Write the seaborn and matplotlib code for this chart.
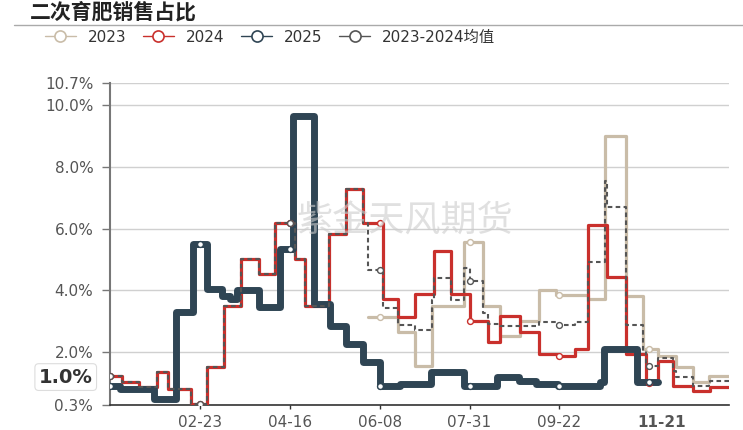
import numpy as np
import pandas as pd
import matplotlib
matplotlib.use("Agg")
import matplotlib.pyplot as plt
from matplotlib.lines import Line2D
import seaborn as sns

YEAR = "2024"  # axis calendar (leap year, includes 02-29)

# ---------------- data ----------------
dates_2023 = ["06-01", "06-19", "06-29", "07-09", "07-28", "08-08", "08-18", "08-30",
              "09-10", "09-20", "10-09", "10-19", "10-31", "11-10", "11-19", "11-30",
              "12-10", "12-19", "12-31"]
vals_2023 = [3.13, 2.65, 1.57, 3.50, 5.55, 3.50, 2.54, 3.02,
             4.00, 3.85, 3.72, 8.99, 3.83, 2.10, 1.89, 1.52,
             1.03, 1.25, 1.25]

dates_2024 = ["01-01", "01-08", "01-18", "01-29", "02-04", "02-18", "02-27", "03-08",
              "03-18", "03-29", "04-07", "04-19", "04-25", "05-09", "05-19", "05-29",
              "06-10", "06-19", "06-29", "07-10", "07-20", "07-31", "08-11", "08-18",
              "08-30", "09-10", "09-21", "10-01", "10-09", "10-20", "10-31", "11-12",
              "11-19", "11-28", "12-10", "12-20", "12-31"]
vals_2024 = [1.25, 1.03, 0.87, 1.35, 0.82, 0.33, 1.52, 3.50,
             5.00, 4.53, 6.19, 5.00, 3.50, 5.82, 7.27, 6.19,
             3.72, 3.15, 3.88, 5.28, 3.88, 3.02, 2.32, 3.18,
             2.65, 1.95, 1.89, 2.10, 6.10, 4.42, 1.95, 1.00,
             1.73, 0.92, 0.76, 0.87, 0.87]

dates_2025 = ["01-01", "01-07", "01-27", "02-09", "02-19", "02-27", "03-07", "03-12",
              "03-16", "03-29", "04-10", "04-18", "04-30", "05-10", "05-19", "05-29",
              "06-08", "06-20", "07-08", "07-28", "08-16", "08-29", "09-08", "09-21",
              "10-16", "10-18", "11-07", "11-19"]
vals_2025 = [0.92, 0.82, 0.50, 3.30, 5.50, 4.04, 3.83, 3.72,
             4.00, 3.46, 5.35, 9.65, 3.56, 2.86, 2.27, 1.69,
             0.90, 0.98, 1.38, 0.92, 1.20, 1.08, 0.98, 0.92,
             1.03, 2.10, 1.03, 1.03]

dates_avg = ["01-01", "01-08", "01-18", "01-29", "02-04", "02-18", "02-27", "03-08",
             "03-18", "03-29", "04-07", "04-19", "04-25", "05-09", "05-19", "05-29",
             "06-01", "06-10", "06-19", "06-29", "07-09", "07-10", "07-20", "07-28",
             "07-31", "08-08", "08-11", "08-18", "08-30", "09-10", "09-20", "09-21",
             "10-01", "10-09", "10-19", "10-20", "10-31", "11-10", "11-12", "11-19",
             "11-28", "11-30", "12-10", "12-19", "12-20", "12-31"]
vals_avg = [1.25, 1.03, 0.87, 1.35, 0.82, 0.33, 1.52, 3.50,
            5.00, 4.53, 6.19, 5.00, 3.50, 5.82, 7.27, 6.19,
            4.66, 3.43, 2.90, 2.73, 3.69, 4.39, 3.69, 4.72,
            4.29, 3.26, 2.91, 2.86, 2.84, 2.98, 2.90, 2.87,
            2.98, 4.91, 7.55, 6.71, 2.89, 2.03, 1.55, 1.81,
            1.41, 1.22, 0.90, 1.01, 1.06, 1.06]

series_names = ["2023", "2024", "2025", "2023-2024均值"]
x_tick_dates = ["02-23", "04-16", "06-08", "07-31", "09-22"]
hover_date = "11-21"
symbol_dates = ["01-01", "02-23", "04-16", "06-08", "07-31", "09-22", "11-14"]
y_ticks = [0.3, 2.0, 4.0, 6.0, 8.0, 10.0, 10.7]
pointer_value = 1.0
title = "二次育肥销售占比"
watermark = "紫金天风期货"

# ---------------- style ----------------
sns.set_theme(style="white")
plt.rcParams["font.family"] = ["DejaVu Sans", "Noto Sans CJK SC"]

colors = {"2023": "#c9bca8", "2024": "#c9302c", "2025": "#2f4554", "2023-2024均值": "#555555"}
widths = {"2023": 2.3, "2024": 2.3, "2025": 5.0, "2023-2024均值": 1.5}
styles = {"2023": "-", "2024": "-", "2025": "-", "2023-2024均值": (0, (2.2, 1.6))}
zorders = {"2023": 2, "2024": 3, "2025": 4, "2023-2024均值": 5}


def to_dt(lst):
    return pd.to_datetime([f"{YEAR}-{d}" for d in lst])


data = {
    "2023": (dates_2023, vals_2023),
    "2024": (dates_2024, vals_2024),
    "2025": (dates_2025, vals_2025),
    "2023-2024均值": (dates_avg, vals_avg),
}

fig = plt.figure(figsize=(7.43, 4.30), dpi=100)
ax = fig.add_axes([110 / 743, 1 - 405 / 430, (729 - 110) / 743, (405 - 83) / 430])

for name in series_names:
    d, v = data[name]
    df = pd.DataFrame({"date": to_dt(d), "value": v})
    sns.lineplot(data=df, x="date", y="value", ax=ax, color=colors[name],
                 linewidth=widths[name], linestyle=styles[name],
                 drawstyle="steps-post", estimator=None, legend=False,
                 zorder=zorders[name])

# symbols at the label-interval dates
sym_dt = to_dt(symbol_dates)
for name in series_names:
    d, v = data[name]
    s = pd.Series(v, index=to_dt(d))
    sel = [t for t in sym_dt if s.index[0] <= t <= s.index[-1]]
    vals = [s.asof(t) for t in sel]
    ax.scatter(sel, vals, s=18, facecolor="white", edgecolor=colors[name],
               linewidth=1.0, zorder=6)

ax.set_xlim(pd.Timestamp(f"{YEAR}-01-01"), pd.Timestamp(f"{YEAR}-12-31"))
ax.set_ylim(y_ticks[0], y_ticks[-1])
ax.set_xlabel("")
ax.set_ylabel("")

ax.set_yticks(y_ticks)
ax.set_yticklabels([f"{t:.1f}%" for t in y_ticks])
xt = list(to_dt(x_tick_dates)) + list(to_dt([hover_date]))
ax.set_xticks(xt)
ax.set_xticklabels(x_tick_dates + [hover_date])
lbls = ax.get_xticklabels()
lbls[-1].set_fontweight("bold")
lbls[-1].set_fontsize(15)
lbls[-1].set_color("#222222")

ax.tick_params(axis="y", direction="out", length=6, width=1, color="#777777",
               labelcolor="#555555", labelsize=11, pad=6, left=True)
ax.tick_params(axis="x", direction="out", length=3, width=1, color="#333333",
               labelcolor="#555555", labelsize=11, pad=4, bottom=True)
ax.xaxis.get_major_ticks()[-1].tick1line.set_visible(False)

ax.yaxis.grid(True, color="#d0d0d0", linewidth=1.0)
ax.xaxis.grid(False)
ax.set_axisbelow(True)
for sp in ["top", "right"]:
    ax.spines[sp].set_visible(False)
ax.spines["left"].set_color("#777777")
ax.spines["left"].set_linewidth(1.5)
ax.spines["bottom"].set_color("#333333")
ax.spines["bottom"].set_linewidth(1.2)

# axis-pointer label on y
ax.annotate(f"{pointer_value:.1f}%", xy=(-0.028, pointer_value),
            xycoords=ax.get_yaxis_transform(), xytext=(0, 4.5),
            textcoords="offset points", ha="right", va="center",
            fontsize=14, fontweight="bold", color="#333333",
            bbox=dict(boxstyle="round,pad=0.2", fc="white", ec="#dddddd", lw=0.8),
            zorder=10, annotation_clip=False)

# watermark
fig.text(405 / 743, 1 - 222 / 430, watermark, ha="center", va="center",
         fontsize=26, color="#cccccc", alpha=0.6,
         family=["Noto Sans CJK SC"], zorder=0)

# title and rule
fig.text(30 / 743, 1 - 12 / 430, title, ha="left", va="center", fontsize=15,
         fontweight="bold", color="#222222", family=["Noto Sans CJK SC"])
fig.add_artist(Line2D([14 / 743, 1.0], [1 - 25 / 430, 1 - 25 / 430],
                      transform=fig.transFigure, color="#aaaaaa", lw=1.0))

# legend
handles = [Line2D([], [], color=colors[n], lw=1.0, marker="o", ms=8,
                  mfc="white", mec=colors[n], mew=1.2) for n in series_names]
fig.legend(handles, series_names, loc="center left",
           bbox_to_anchor=(45 / 743, 1 - 37 / 430), ncol=4, frameon=False,
           fontsize=11, handlelength=2.0, handletextpad=0.8, columnspacing=1.1,
           borderaxespad=0, borderpad=0, labelcolor="#333333")

fig.savefig("out.png", dpi=100)
